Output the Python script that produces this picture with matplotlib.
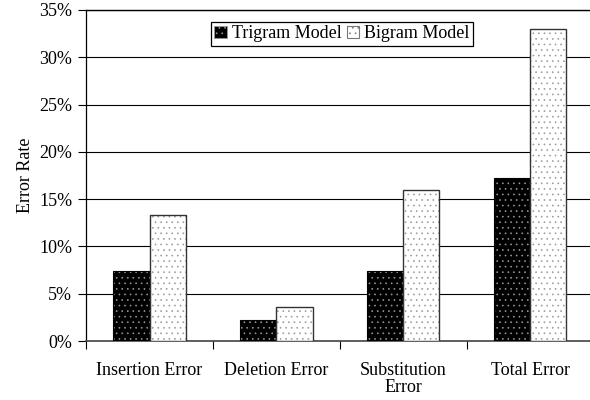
import numpy as np
import matplotlib.pyplot as plt
from matplotlib.patches import Patch
from matplotlib.ticker import FuncFormatter

plt.rcParams['font.family'] = ['Liberation Serif', 'DejaVu Serif']
plt.rcParams['hatch.linewidth'] = 0.45

categories = ['Insertion Error', 'Deletion Error', 'Substitution\nError', 'Total Error']
trigram = [7.4, 2.2, 7.4, 17.2]
bigram = [13.3, 3.6, 16.0, 33.0]
series_names = ['Trigram Model', 'Bigram Model']

fs = 13

fig = plt.figure(figsize=(5.9, 4.0), dpi=100)
ax = fig.add_axes([0.146, 0.1475, 0.86, 0.8275])

x = np.arange(len(categories))
w = 0.285
ax.bar(x - w / 2, trigram, w, color='black', edgecolor='#999999', hatch='...',
       linewidth=0.6, zorder=3)
ax.bar(x - w / 2, trigram, w, color='none', edgecolor='black', linewidth=0.8, zorder=4)
ax.bar(x + w / 2, bigram, w, color='white', edgecolor='#999999', hatch='...',
       linewidth=0.6, zorder=3)
ax.bar(x + w / 2, bigram, w, color='none', edgecolor='#333333', linewidth=1.0, zorder=4)

ax.set_xlim(-0.5, 3.5)
ax.set_ylim(0, 35)
ax.set_yticks(np.arange(0, 36, 5))
ax.yaxis.set_major_formatter(FuncFormatter(lambda v, p: f'{v:.0f}%'))
ax.yaxis.grid(True, color='black', linewidth=0.8, zorder=0)
ax.set_axisbelow(True)

ax.set_xticks(x)
ax.set_xticklabels(categories, fontsize=fs, linespacing=1.0)
ax.tick_params(axis='x', length=0, pad=15)
ax.set_xticks(np.arange(-0.5, 4, 1.0), minor=True)
ax.tick_params(axis='x', which='minor', length=6, width=0.8, direction='out')
ax.tick_params(axis='y', length=6, width=0.8, direction='out', labelsize=fs, pad=4)

ax.set_ylabel('Error Rate', fontsize=fs, labelpad=4)

ax.spines['right'].set_visible(False)
ax.spines['left'].set_linewidth(0.9)
ax.spines['bottom'].set_linewidth(1.2)
ax.spines['bottom'].set_color('#444444')
ax.spines['top'].set_linewidth(1.0)

handles = [Patch(facecolor='black', edgecolor='#999999', hatch='...', linewidth=0.6),
           Patch(facecolor='white', edgecolor='#777777', hatch='...', linewidth=0.8)]
leg = ax.legend(handles, series_names, loc='upper center', bbox_to_anchor=(0.504, 0.965),
                ncol=2, fontsize=fs, frameon=True, fancybox=False, framealpha=1,
                edgecolor='black', handlelength=0.7, handleheight=0.7,
                handletextpad=0.25, columnspacing=0.3, borderpad=0.2, borderaxespad=0)
leg.get_frame().set_linewidth(0.9)
leg.set_zorder(5)

fig.savefig('out.png', dpi=100)
